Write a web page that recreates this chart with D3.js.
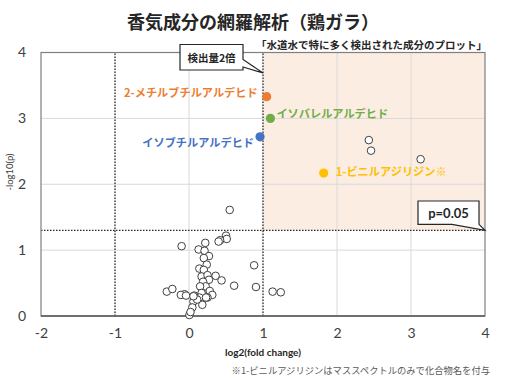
<!DOCTYPE html>
<html><head><meta charset="utf-8">
<script src="https://cdn.jsdelivr.net/npm/d3@7"></script>
<style>
html,body{margin:0;padding:0;background:#fff;}
svg{display:block;}
</style>
</head><body>
<svg id="c" width="518" height="379"></svg>
<script>
// ---- data ----
const openX = [0.55,0.50,0.51,0.42,0.40,-0.10,0.22,0.13,0.21,0.27,0.20,0.24,0.14,0.20,0.17,0.25,0.36,0.44,0.27,0.19,0.225,0.15,0.28,0.315,0.25,0.17,0.14,0.07,0.18,0.06,0.045,0.005,0.02,-0.06,-0.11,-0.04,-0.30,-0.225,0.61,0.88,0.905,1.13,1.24,0.11,0.23,0.06,2.43,2.46,3.13];
const openY = [1.61,1.22,1.17,1.15,1.13,1.06,1.11,1.01,0.99,0.91,0.88,0.78,0.72,0.70,0.60,0.62,0.61,0.54,0.55,0.52,0.45,0.45,0.38,0.32,0.28,0.35,0.28,0.31,0.17,0.22,0.13,0.015,0.06,0.33,0.32,0.31,0.37,0.41,0.46,0.77,0.44,0.37,0.36,0.25,0.28,0.30,2.67,2.51,2.38];
const hiNames = ["2-メチルブチルアルデヒド","イソバレルアルデヒド","イソブチルアルデヒド","1-ビニルアジリジン※"];
const hiX = [1.05,1.10,0.96,1.82];
const hiY = [3.33,3.00,2.72,2.17];
const hiColors = ["#ED7D31","#70AD47","#4472C4","#FFC000"];
const xTicks = [-2,-1,0,1,2,3,4];
const yTicks = [0,1,2,3,4];
const foldLine = 1;          // log2(2)
const pLine = -Math.log10(0.05);
const title = "香気成分の網羅解析（鶏ガラ）";
const subtitle = "「水道水で特に多く検出された成分のプロット」";
const xTitle = "log2(fold change)";
const yTitle = "-log10(p)";
const footnote = "※1-ビニルアジリジンはマススペクトルのみで化合物名を付与";
const foldLabel = "検出量2倍";
const pLabel = "p=0.05";

// ---- drawing ----
const svg = d3.select("#c");
const JP = "'Noto Sans CJK JP','Noto Sans',sans-serif";
const NUM = "Lato,'Open Sans',sans-serif";
const x = d3.scaleLinear().domain([-2,4]).range([41,485]);
const y = d3.scaleLinear().domain([0,4]).range([316,52.5]);
const fmt = d => String(d);

// shaded region
svg.append("rect")
  .attr("x", x(foldLine)).attr("y", y(4))
  .attr("width", x(4)-x(foldLine)).attr("height", y(pLine)-y(4))
  .attr("fill","#FCEDE3");

// gridlines
svg.append("g").selectAll("line").data(yTicks.filter(d=>d>0&&d<4)).join("line")
  .attr("x1",x(-2)).attr("x2",x(4)).attr("y1",d=>y(d)).attr("y2",d=>y(d))
  .attr("stroke","#D9D9D9").attr("stroke-width",1);
svg.append("g").selectAll("line").data(xTicks.filter(d=>d>-2&&d<4)).join("line")
  .attr("y1",y(0)).attr("y2",y(4)).attr("x1",d=>x(d)).attr("x2",d=>x(d))
  .attr("stroke","#D9D9D9").attr("stroke-width",1);

// dotted threshold lines
[-foldLine, foldLine].forEach(v=>{
  svg.append("line").attr("x1",x(v)).attr("x2",x(v)).attr("y1",y(0)).attr("y2",y(4))
    .attr("stroke","#262626").attr("stroke-width",1.2).attr("stroke-dasharray","1.5,1.5");
});
svg.append("line").attr("x1",x(-2)).attr("x2",x(4)).attr("y1",y(pLine)).attr("y2",y(pLine))
  .attr("stroke","#262626").attr("stroke-width",1.2).attr("stroke-dasharray","1.5,1.5");

// plot border
svg.append("rect").attr("x",x(-2)).attr("y",y(4)).attr("width",x(4)-x(-2)).attr("height",y(0)-y(4))
  .attr("fill","none").attr("stroke","#7F7F7F").attr("stroke-width",1.2);
svg.append("line").attr("x1",x(-2)).attr("x2",x(4)).attr("y1",y(0)).attr("y2",y(0))
  .attr("stroke","#595959").attr("stroke-width",1.5);

// axes tick labels
const xAxis = d3.axisBottom(x).tickValues(xTicks).tickFormat(fmt).tickSize(0).tickPadding(12);
const gx = svg.append("g").attr("transform",`translate(0,${y(0)})`).call(xAxis);
gx.select(".domain").remove();
gx.selectAll("text").attr("font-family",NUM).attr("font-size",14).attr("fill","#404040");
const yAxis = d3.axisLeft(y).tickValues(yTicks).tickFormat(fmt).tickSize(0).tickPadding(15);
const gy = svg.append("g").attr("transform",`translate(${x(-2)},0)`).call(yAxis);
gy.select(".domain").remove();
gy.selectAll("text").attr("font-family",NUM).attr("font-size",14).attr("fill","#404040");

// open points
svg.append("g").selectAll("circle").data(openX.map((v,i)=>[v,openY[i]])).join("circle")
  .attr("cx",d=>x(d[0])).attr("cy",d=>y(d[1])).attr("r",3.8)
  .attr("fill","#fff").attr("stroke","#404040").attr("stroke-width",1);

// highlighted points
const hi = hiNames.map((n,i)=>({n, x:hiX[i], y:hiY[i], c:hiColors[i]}));
svg.append("g").selectAll("circle").data(hi).join("circle")
  .attr("cx",d=>x(d.x)).attr("cy",d=>y(d.y)).attr("r",4.6).attr("fill",d=>d.c);

// highlight labels: [dx, dy, anchor]
const lab = [[-9,-5,"end"],[6,-5,"start"],[-6,5,"end"],[12,-2.5,"start"]];
svg.append("g").selectAll("text").data(hi).join("text")
  .attr("x",(d,i)=>x(d.x)+lab[i][0]).attr("y",(d,i)=>y(d.y)+lab[i][1])
  .attr("text-anchor",(d,i)=>lab[i][2]).attr("dominant-baseline","central")
  .attr("font-family",JP).attr("font-weight","bold").attr("font-size",11.2)
  .attr("fill",d=>d.c).text(d=>d.n);

// title & subtitle
svg.append("text").attr("x",253).attr("y",21).attr("text-anchor","middle").attr("dominant-baseline","central")
  .attr("font-family",JP).attr("font-weight","bold").attr("font-size",18).attr("fill","#262626").text(title);
svg.append("text").attr("x",487).attr("y",44).attr("text-anchor","end").attr("dominant-baseline","central")
  .attr("font-family",JP).attr("font-weight","bold").attr("font-size",10.5).attr("fill","#262626").text(subtitle);

// axis titles
svg.append("text").attr("x",x(1)).attr("y",352).attr("text-anchor","middle").attr("dominant-baseline","central")
  .attr("font-family",NUM).attr("font-weight","bold").attr("font-size",10).attr("fill","#262626").text(xTitle);
svg.append("text").attr("transform",`translate(9,172) rotate(-90)`).attr("text-anchor","middle").attr("dominant-baseline","central")
  .attr("font-family",NUM).attr("font-size",9.5).attr("fill","#404040").text(yTitle);

// footnote
svg.append("text").attr("x",490).attr("y",370).attr("text-anchor","end").attr("dominant-baseline","central")
  .attr("font-family",JP).attr("font-size",9.3).attr("fill","#595959").text(footnote);

// callout: fold change
{
  const tx = x(foldLine), ty = y(3.69);
  const L = tx-83, R = tx-20, T = 44.5, B = 70;
  svg.append("path")
    .attr("d",`M${L},${T}H${R}V${T+15}L${tx},${ty}L${R},${B-3}V${B}H${L}Z`)
    .attr("fill","#fff").attr("stroke","#262626").attr("stroke-width",1.2);
  svg.append("text").attr("x",(L+R)/2).attr("y",(T+B)/2).attr("text-anchor","middle").attr("dominant-baseline","central")
    .attr("font-family",JP).attr("font-weight","bold").attr("font-size",10.5).attr("fill","#262626").text(foldLabel);
}
// callout: p=0.05
{
  const tx = x(4), ty = y(pLine);
  const L = tx-67, R = tx-6, T = 201, B = 224.3;
  svg.append("path")
    .attr("d",`M${L},${T}H${R}V${B}L${tx},${ty}L${L+34},${B}H${L}Z`)
    .attr("fill","#fff").attr("stroke","#262626").attr("stroke-width",1.2);
  svg.append("text").attr("x",(L+R)/2).attr("y",(T+B)/2).attr("text-anchor","middle").attr("dominant-baseline","central")
    .attr("font-family",NUM).attr("font-weight","bold").attr("font-size",13).attr("fill","#262626").text(pLabel);
}
</script>
</body></html>
